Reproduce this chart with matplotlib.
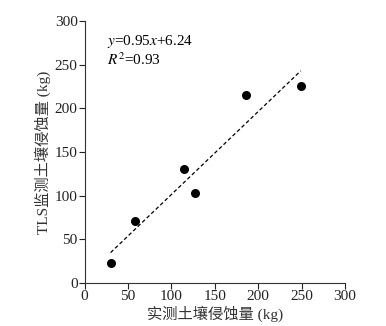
import numpy as np
import matplotlib.pyplot as plt

plt.rcParams['font.family'] = ['Liberation Serif', 'Noto Sans CJK SC']
plt.rcParams['mathtext.fontset'] = 'stix'
plt.rcParams['font.size'] = 11

# measured vs TLS-monitored soil erosion (kg)
measured = [30, 58, 115, 127, 186, 249]
tls = [23, 71, 130, 103, 215, 226]
slope, intercept = 0.95, 6.24
r2 = 0.93

fig = plt.figure(figsize=(3.86, 3.26), dpi=100)
ax = fig.add_axes([0.219, 0.132, 0.675, 0.804])

ax.scatter(measured, tls, s=30, color='black', zorder=3)

# fitted line over the range of measured values
xf = np.array([min(measured), max(measured)])
ax.plot(xf, slope * xf + intercept, color='black', linestyle=(0, (3, 2)), linewidth=0.9)

ax.text(26, 276, r'$y$=%.2f$x$+%.2f' % (slope, intercept), fontsize=11, va='center')
ax.text(26, 255, r'$R^2$=%.2f' % r2, fontsize=11, va='center')

ax.set_xlim(0, 300)
ax.set_ylim(0, 300)
ax.set_xticks(range(0, 301, 50))
ax.set_yticks(range(0, 301, 50))
for s in ['top', 'right']:
    ax.spines[s].set_visible(False)
for s in ['left', 'bottom']:
    ax.spines[s].set_color('#333333')
ax.tick_params(direction='out', length=4, width=0.8, pad=1, colors='#222222')
ax.set_xlabel('实测土壤侵蚀量 (kg)', labelpad=2, fontsize=11, color='#333333')
ax.set_ylabel('TLS监测土壤侵蚀量 (kg)', labelpad=3, fontsize=11, color='#333333')

fig.savefig('out.png', dpi=100)
